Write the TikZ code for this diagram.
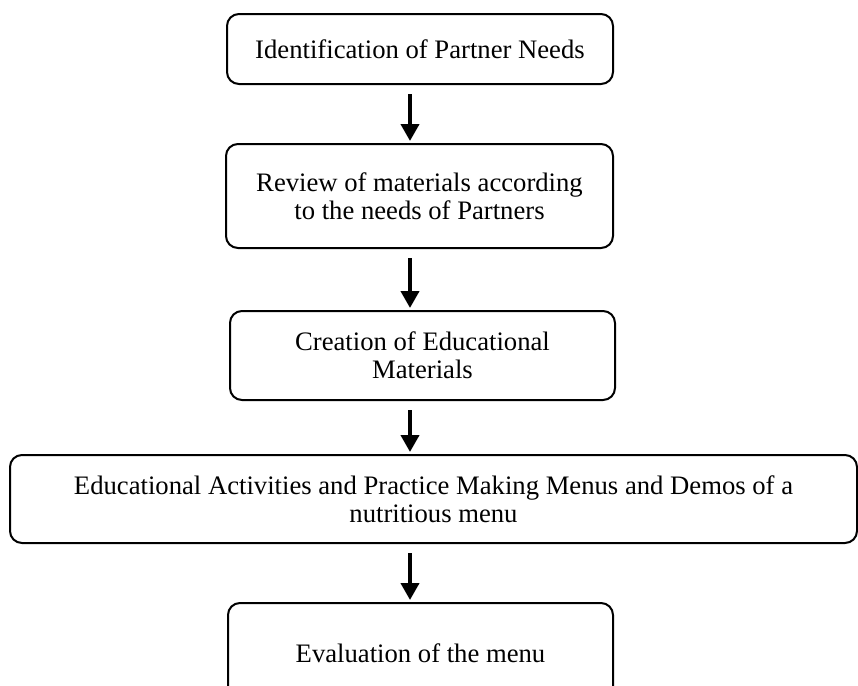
\documentclass[tikz,border=0pt]{standalone}
\usepackage{fontspec}
\setmainfont{Liberation Serif}
\usetikzlibrary{arrows.meta}
\tikzset{
  stage/.style={draw, line width=1.5pt, rounded corners=9pt, align=center, inner sep=0pt,
    font=\fontsize{20}{21}\selectfont},
  flow/.style={line width=3pt, -{Triangle[length=12.75pt,width=13.5pt]}, shorten <=7pt, shorten >=1.5pt}
}
\begin{document}
\begin{tikzpicture}[x=0.75pt,y=0.75pt,yscale=-1,xscale=1]
\clip (0,0) rectangle (858,686);
%Stage boxes
\node[stage, minimum width=289.5pt, minimum height=52.5pt] (ident) at (420,49) {Identification of Partner Needs};
\node[stage, minimum width=290.25pt, minimum height=78pt] (review) at (419.5,196) {Review of materials according\\to the needs of Partners};
\node[stage, minimum width=288.75pt, minimum height=66.75pt] (create) at (422.5,355.5) {Creation of Educational\\Materials};
\node[stage, minimum width=635.25pt, minimum height=66pt] (activ) at (433.5,499) {Educational Activities and Practice Making Menus and Demos of a\\nutritious menu};
\node[stage, minimum width=288.75pt, minimum height=75pt] (eval) at (420.5,653) {Evaluation of the menu};
%Arrows
\coordinate (axis) at (410,0);
\draw[flow] (ident.south -| axis) -- (review.north -| axis);
\draw[flow] (review.south -| axis) -- (create.north -| axis);
\draw[flow] (create.south -| axis) -- (activ.north -| axis);
\draw[flow] (activ.south -| axis) -- (eval.north -| axis);
\end{tikzpicture}
\end{document}
